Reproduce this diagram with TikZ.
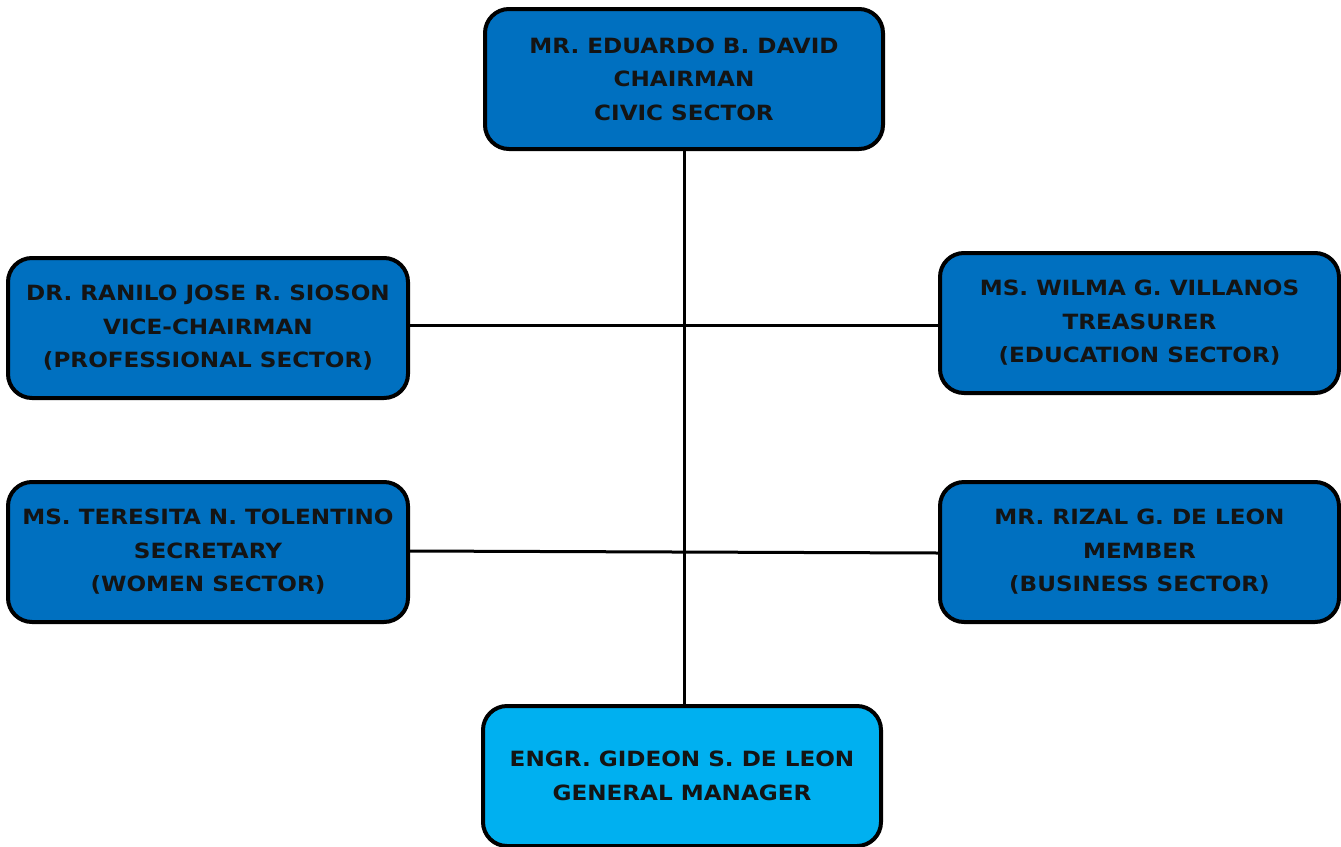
\documentclass[tikz,border=0pt]{standalone}
\usepackage{fontspec}
\setmainfont{DejaVu Sans}[FakeStretch=1.1]
\definecolor{boxblue}{HTML}{0070C0}
\definecolor{gmblue}{HTML}{00B0F0}
\begin{document}
\begin{tikzpicture}[x=1pt,y=-1pt,
  orgbox/.style={draw=black,line width=4pt,rounded corners=24pt,fill=boxblue,
    minimum width=398pt,minimum height=140pt,align=center,
    font=\fontsize{21}{33.5}\selectfont\bfseries,text=black!92,
    execute at begin node={\rule{0pt}{23pt}}},
  link/.style={line width=3pt,draw=black}]
\useasboundingbox (0,0) rectangle (1341,846);
\node[orgbox] (chair) at (684,79) {MR. EDUARDO B. DAVID\\CHAIRMAN\\CIVIC SECTOR};
\node[orgbox,minimum width=400pt] (vice) at (208,328) {DR. RANILO JOSE R. SIOSON\\VICE-CHAIRMAN\\(PROFESSIONAL SECTOR)};
\node[orgbox,minimum width=399pt] (treas) at (1139.5,323) {MS. WILMA G. VILLANOS\\TREASURER\\(EDUCATION SECTOR)};
\node[orgbox,minimum width=400pt] (sec) at (208,552) {MS. TERESITA N. TOLENTINO\\SECRETARY\\(WOMEN SECTOR)};
\node[orgbox,minimum width=399pt] (mem) at (1139.5,552) {MR. RIZAL G. DE LEON\\MEMBER\\(BUSINESS SECTOR)};
\node[orgbox,fill=gmblue] (gm) at (682,776) {ENGR. GIDEON S. DE LEON\\GENERAL MANAGER};
\draw[link] (chair.south) -- (chair.south |- gm.north);
\draw[link] (vice.east |- 0,325) -- (treas.west |- 0,325);
\draw[link] (sec.east |- 0,551) -- (mem.west |- 0,553);
\end{tikzpicture}
\end{document}
